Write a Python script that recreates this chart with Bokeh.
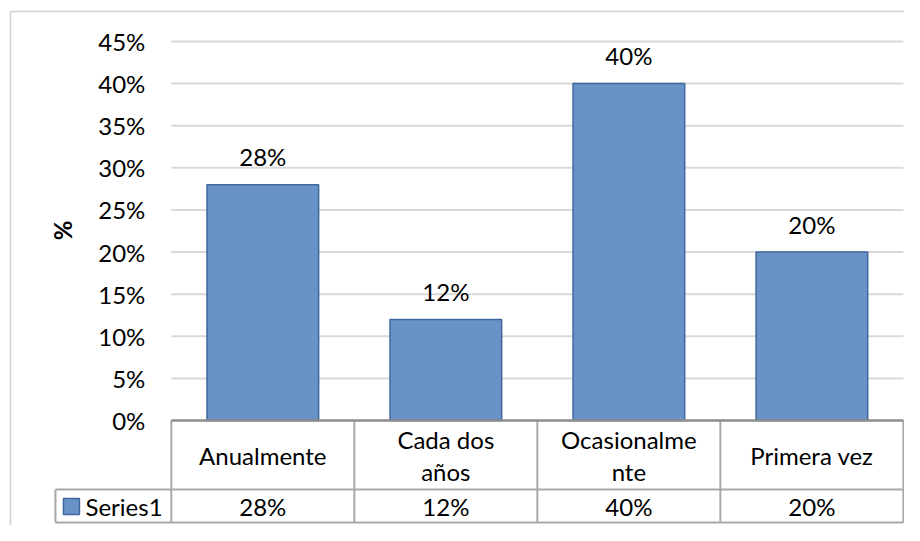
import math
from bokeh.plotting import figure
from bokeh.models import Range1d, ColumnDataSource
from bokeh.core.properties import value
from bokeh.embed import file_html
from bokeh.resources import INLINE

# ---- data ----
categories = ["Anualmente", "Cada dos años", "Ocasionalmente", "Primera vez"]
category_lines = ["Anualmente", "Cada dos\naños", "Ocasionalme\nnte", "Primera vez"]
series_name = "Series1"
values = [0.28, 0.12, 0.40, 0.20]
tick_values = [0.0, 0.05, 0.10, 0.15, 0.20, 0.25, 0.30, 0.35, 0.40, 0.45]
tick_labels = ["0%", "5%", "10%", "15%", "20%", "25%", "30%", "35%", "40%", "45%"]
axis_title = "%"

# ---- style ----
FONT = value("Lato")
FS = "24px"
BAR_FILL = "#6892c8"
BAR_LINE = "#41689d"
GRID = "#d9d9d9"
TABLE_LINE = "#a8a8a8"
TEXT = "#000000"

n = len(categories)
xc = [i + 0.5 for i in range(n)]

p = figure(width=904, height=525, output_backend="svg", toolbar_location=None,
           x_range=Range1d(-0.9332, 4.006), y_range=Range1d(-0.1247, 0.4987),
           x_axis_location=None, y_axis_location=None, min_border=0,
           outline_line_color=None)
p.xgrid.visible = False
p.ygrid.visible = False
p.background_fill_color = "white"
p.border_fill_color = "white"

# chart outer border (left and top edges visible)
p.segment(x0=[-0.8786, -0.8786], y0=[0.4856, 0.4856], x1=[4.006, -0.8786], y1=[0.4856, -0.1247],
          line_color="#d0d0d0", line_width=1.5)

# gridlines
grid_y = [t for t in tick_values if t > 0]
p.segment(x0=[0] * len(grid_y), y0=grid_y, x1=[n] * len(grid_y), y1=grid_y,
          line_color=GRID, line_width=2)

# bars
src = ColumnDataSource(dict(x=xc, top=values, cat=categories,
                            lab=[f"{round(v*100)}%" for v in values]))
p.vbar(x="x", top="top", bottom=0, width=0.61, source=src,
       fill_color=BAR_FILL, line_color=BAR_LINE, line_width=1.5)

# data labels
p.text(x="x", y="top", text="lab", source=src, text_font=FONT, text_font_size=FS,
       text_align="center", text_baseline="middle", y_offset=-28, text_color=TEXT)

# y tick labels
p.text(x=[-0.142] * len(tick_values), y=tick_values, text=tick_labels, text_font=FONT,
       text_font_size=FS, text_align="right", text_baseline="middle", text_color=TEXT)

# y axis title
p.text(x=[-0.595], y=[0.2256], text=[axis_title], angle=math.pi / 2, text_font=FONT,
       text_font_size=FS, text_font_style="bold", text_align="center",
       text_baseline="middle", text_color=TEXT)

# data table
row1 = -0.0819
row2 = -0.1211
row_val = -0.1021
# verticals between columns
p.segment(x0=list(range(n + 1)), y0=[0] * (n + 1), x1=list(range(n + 1)), y1=[row2] * (n + 1),
          line_color=TABLE_LINE, line_width=2)
# horizontal lines
p.segment(x0=[-0.633, -0.633], y0=[row1, row2], x1=[n, n], y1=[row1, row2],
          line_color=TABLE_LINE, line_width=2)
# legend cell left edge
p.segment(x0=[-0.633], y0=[row1], x1=[-0.633], y1=[row2], line_color=TABLE_LINE, line_width=2)
# axis line (table top)
p.segment(x0=[0], y0=[0], x1=[n], y1=[0], line_color="#8c8c8c", line_width=2.5)

# header texts
p.text(x=xc, y=[-0.0415] * n, text=category_lines, text_font=FONT, text_font_size=FS,
       text_align="center", text_baseline="middle", text_line_height=1.12, text_color=TEXT)
# values row
p.text(x=xc, y=[row_val] * n, text=[f"{round(v*100)}%" for v in values], text_font=FONT,
       text_font_size=FS, text_align="center", text_baseline="middle", text_color=TEXT)
# legend key and name
p.scatter(x=[-0.5457], y=[row_val], marker="square", size=16,
          fill_color=BAR_FILL, line_color=BAR_LINE, line_width=1.5)
p.text(x=[-0.469], y=[row_val], text=[series_name], text_font=FONT, text_font_size=FS,
       text_align="left", text_baseline="middle", text_color=TEXT)

open("out.html", "w").write(file_html(p, INLINE))
